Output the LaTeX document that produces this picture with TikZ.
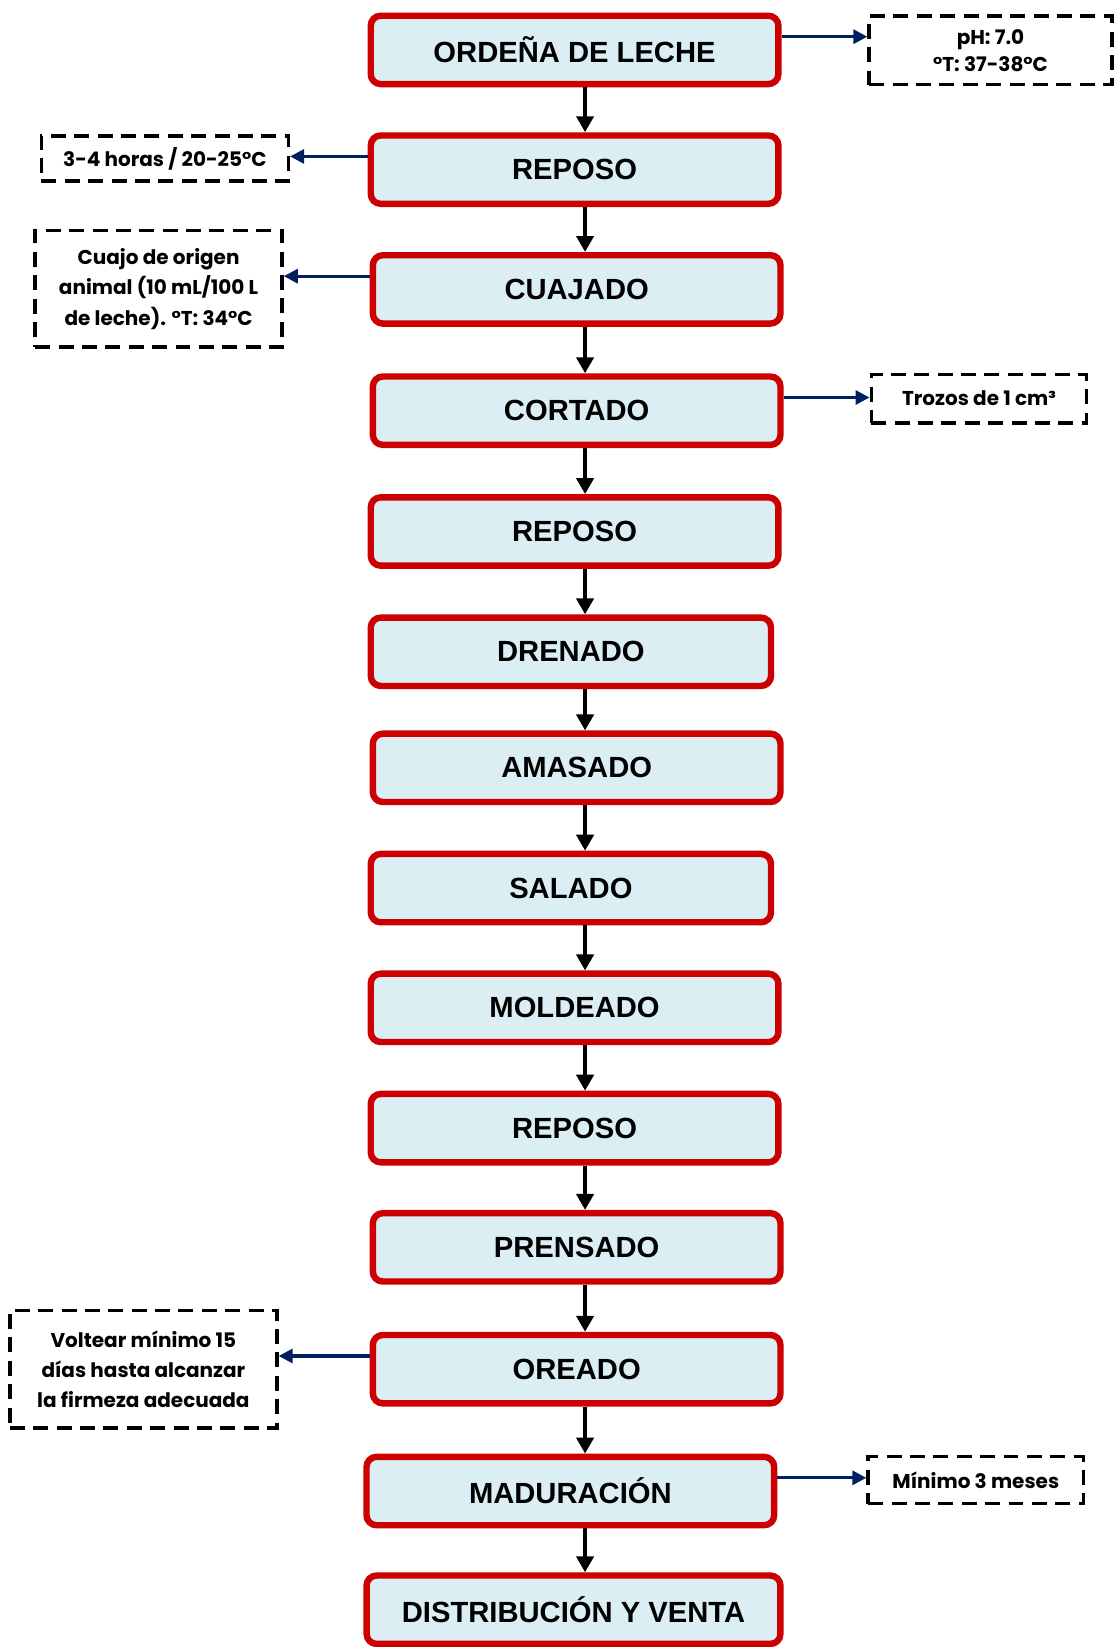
\documentclass[tikz,border=0pt]{standalone}
\usepackage{fontspec}
\setmainfont{Liberation Sans}
\newfontfamily\gothic{Poppins}
\usepackage{xcolor}
\usepackage{tikz}
\usetikzlibrary{arrows.meta}
\definecolor{rojoetapa}{HTML}{CC0000}
\definecolor{celeste}{HTML}{DAEEF3}
\definecolor{marino}{HTML}{002060}

\begin{document}
\begin{tikzpicture}[x=0.5254pt,y=-0.5254pt,
  etapa/.style={draw=rojoetapa,line width=3.2pt,fill=celeste,rounded corners=5pt,
    minimum width=203.9pt,minimum height=34.2pt,inner sep=0pt,
    font=\fontsize{14.6}{17}\selectfont\bfseries},
  nota/.style={draw,line width=1.8pt,dash pattern=on 7.5pt off 4.2pt,inner sep=0pt,
    align=center,font=\gothic\bfseries\fontsize{10}{15.2}\selectfont},
  flecha/.style={-{Triangle[length=8pt,width=8.5pt]},line width=2.4pt},
  lateral/.style={marino,-{Triangle[length=7pt,width=7pt]},line width=1.6pt}]
  \useasboundingbox (0,0) rectangle (1064,1568);
  % etapas del proceso
  \node[etapa] (ordena) at (547,47.5) {ORDEÑA DE LECHE};
  \node[etapa] (reposoA) at (547,161.5) {REPOSO};
  \node[etapa] (cuajado) at (549,275.5) {CUAJADO};
  \node[etapa] (cortado) at (549,391) {CORTADO};
  \node[etapa] (reposoB) at (547,506) {REPOSO};
  \node[etapa,minimum width=200.2pt] (drenado) at (543.5,620.5) {DRENADO};
  \node[etapa] (amasado) at (549,731) {AMASADO};
  \node[etapa,minimum width=200.2pt] (salado) at (543.5,845.5) {SALADO};
  \node[etapa] (moldeado) at (547,959.5) {MOLDEADO};
  \node[etapa] (reposoC) at (547,1074) {REPOSO};
  \node[etapa] (prensado) at (549,1187.5) {PRENSADO};
  \node[etapa] (oreado) at (549,1303.5) {OREADO};
  \node[etapa] (maduracion) at (543,1419.5) {MADURACIÓN};
  \node[etapa,minimum width=207pt] (venta) at (546,1532.5) {DISTRIBUCIÓN Y VENTA};
  \coordinate (eje) at (557,0);
  \foreach \a/\b in {ordena/reposoA,reposoA/cuajado,cuajado/cortado,cortado/reposoB,
      reposoB/drenado,drenado/amasado,amasado/salado,salado/moldeado,moldeado/reposoC,
      reposoC/prensado,prensado/oreado,oreado/maduracion,maduracion/venta}
    \draw[flecha] (\a.south -| eje) -- (\b.north -| eje);
  % condiciones
  \node[nota,minimum width=121.4pt,minimum height=34.2pt] (ph) at (943,48)
    {pH: 7.0\\[-1.5pt]°T: 37-38°C};
  \node[nota,minimum width=123.5pt,minimum height=22.6pt] (horas) at (157,151)
    {3-4 horas / 20-25°C};
  \node[nota,minimum width=123.5pt,minimum height=58.3pt] (cuajo) at (151,275)
    {Cuajo de origen\\animal (10 mL/100 L\\de leche). °T: 34°C};
  \node[nota,minimum width=107.7pt,minimum height=24.2pt] (trozos) at (932,379.5)
    {Trozos de 1 cm³};
  \node[nota,minimum width=133.5pt,minimum height=58.8pt] (voltear) at (136.5,1303.5)
    {Voltear mínimo 15\\días hasta alcanzar\\la firmeza adecuada};
  \node[nota,minimum width=107.7pt,minimum height=23.6pt] (minimo) at (929,1409)
    {Mínimo 3 meses};
  \draw[lateral] ([yshift=6.6pt]ordena.east) -- ([yshift=6.6pt]ordena.east -| ph.west);
  \draw[lateral] ([yshift=6.6pt]reposoA.west) -- ([yshift=6.6pt]reposoA.west -| horas.east);
  \draw[lateral] ([yshift=6.6pt]cuajado.west) -- ([yshift=6.6pt]cuajado.west -| cuajo.east);
  \draw[lateral] ([yshift=6.6pt]cortado.east) -- ([yshift=6.6pt]cortado.east -| trozos.west);
  \draw[lateral] ([yshift=6.6pt]oreado.west) -- ([yshift=6.6pt]oreado.west -| voltear.east);
  \draw[lateral] ([yshift=6.6pt]maduracion.east) -- ([yshift=6.6pt]maduracion.east -| minimo.west);
\end{tikzpicture}
\end{document}
